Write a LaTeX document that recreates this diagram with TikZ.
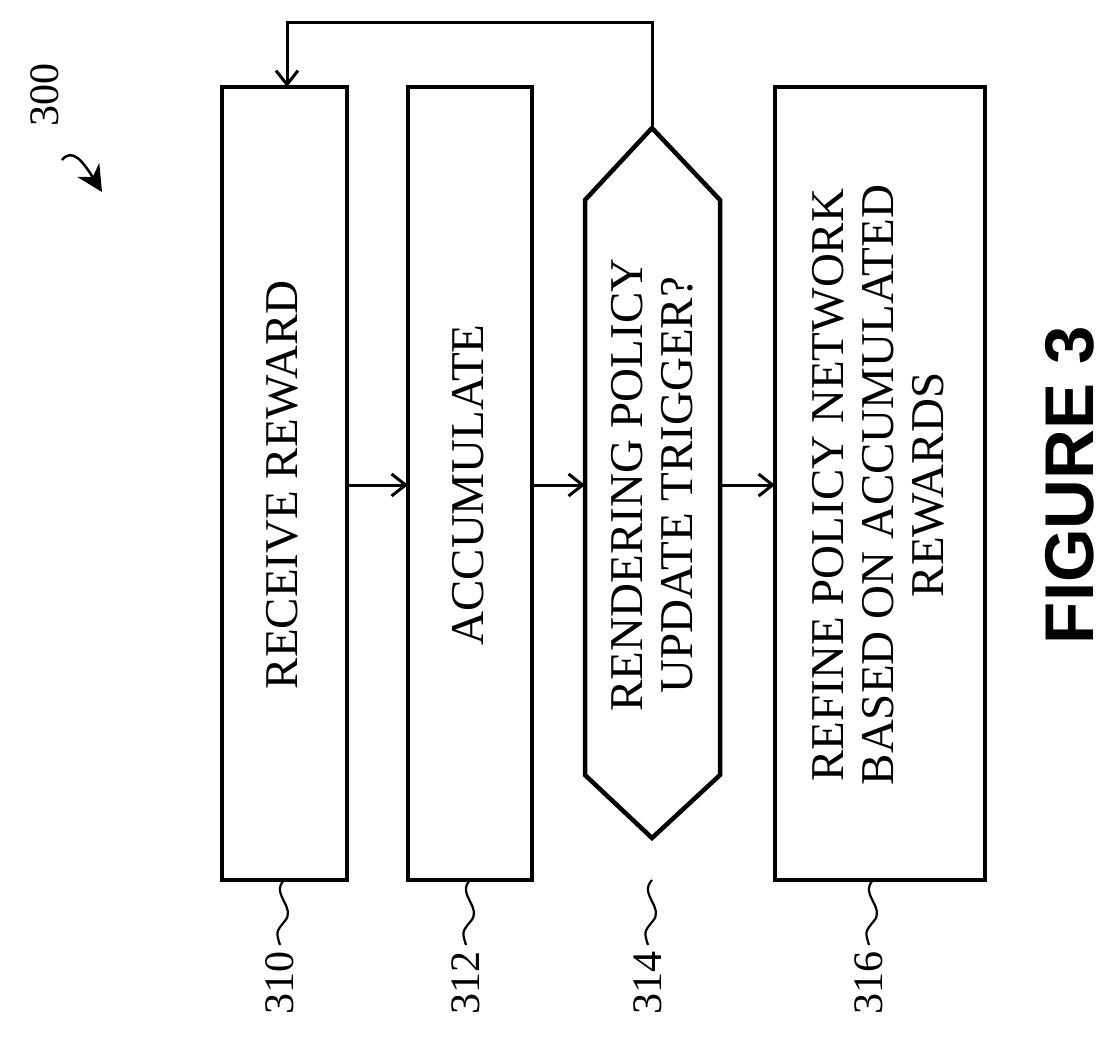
\documentclass[tikz,border=0pt]{standalone}
\usepackage{fontspec}
\setmainfont{Liberation Serif}
\newfontfamily\figfont{Liberation Sans}
\usetikzlibrary{arrows.meta}
\tikzset{every picture/.style={line width=3pt}}
\tikzset{
  box/.style={draw,line width=4.5pt},
  lbl/.style={rotate=90,font=\fontsize{47}{50}\selectfont,align=center},
  ref/.style={rotate=90,anchor=east,font=\fontsize{42}{46}\selectfont,inner sep=2pt},
  flow/.style={line width=3pt,-{Straight Barb[length=14pt,width=22pt]}}
}
\begin{document}
\begin{tikzpicture}[x=1pt,y=1pt,yscale=-1,xscale=1]
\useasboundingbox (0,0) rectangle (1120,1047);

%Boxes
\draw[box] (222,87) rectangle (347,880);
\draw[box] (408,87) rectangle (532,880);
\draw[box] (652,128) -- (720,200) -- (720,775) -- (652,838) -- (585,775) -- (585,200) -- cycle;
\draw[box] (775,87) rectangle (985,880);

\coordinate (top) at (652,128);
\node[lbl] (recv) at (282,485) {RECEIVE REWARD};
\node[lbl] (acc) at (468,485) {ACCUMULATE};
\node[lbl] (trig) at (652,485) {RENDERING POLICY\\UPDATE TRIGGER?};
\node[lbl] (refine) at (878,485) {REFINE POLICY NETWORK\\BASED ON ACCUMULATED\\REWARDS};

%Arrows
\coordinate (a1) at (347,485); \coordinate (b1) at (408,485);
\coordinate (a2) at (532,485); \coordinate (b2) at (585,485);
\coordinate (a3) at (720,485); \coordinate (b3) at (775,485);
\draw[flow] (a1) -- (b1);
\draw[flow] (a2) -- (b2);
\draw[flow] (a3) -- (b3);
\coordinate (in) at (287,87);
\draw[flow] (top) -- (652,22) -- (287,22) -- (in);

%Reference numerals
\foreach \x/\n in {284/310,470/312,652/314,873/316}{
  \draw[line width=2.2pt] (\x,880) .. controls (\x-14,895) and (\x+14,908) .. (\x,922)
    .. controls (\x-8,932) .. (\x-4,945);
  \node[ref] at (\x-4,948) {\n};
}
\node[rotate=90,font=\fontsize{42}{46}\selectfont] (num) at (45,95) {300};
\draw[-{Stealth[length=26pt,width=26pt]},line width=2.5pt] (62,160) .. controls (72,148) and (82,160) .. (102,192);

\node[rotate=90,font=\figfont\bfseries\fontsize{69}{72}\selectfont] (fig) at (1070,485) {FIGURE 3};
\end{tikzpicture}
\end{document}
